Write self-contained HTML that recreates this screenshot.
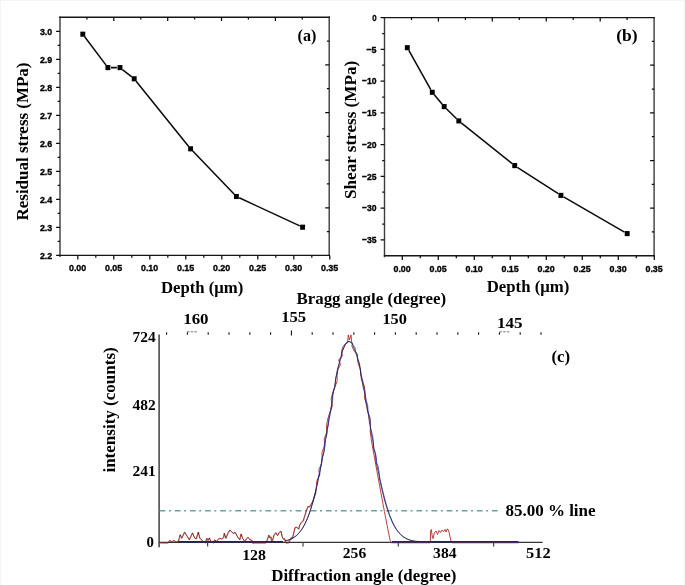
<!DOCTYPE html>
<html><head><meta charset="utf-8"><title>figure</title>
<style>
html,body{margin:0;padding:0;background:#fff;}
body{width:685px;height:585px;overflow:hidden;}
svg{display:block;filter:blur(0.35px);}
.ser{font-family:"Liberation Serif",serif;font-weight:bold;fill:#000;}
.san{font-family:"Liberation Sans",sans-serif;font-weight:bold;fill:#000;stroke:#000;stroke-width:0.35px;}
</style></head><body>
<svg width="685" height="585" viewBox="0 0 685 585">
<rect x="0" y="0" width="685" height="585" fill="#ffffff"/>
<path d="M0.5 585V0.5H684.5V585" fill="none" stroke="#f5f5f5" stroke-width="1"/>
<path d="M60.0 16.5V257.0M329.2 16.5V256.1" fill="none" stroke="#3c3c3c" stroke-width="1.4"/>
<path d="M59.3 17.2H329.9M59.3 255.4H329.9" fill="none" stroke="#161616" stroke-width="1.4"/>
<path d="M60.0 31.3h-3.9 M60.0 59.3h-3.9 M60.0 87.3h-3.9 M60.0 115.3h-3.9 M60.0 143.3h-3.9 M60.0 171.3h-3.9 M60.0 199.3h-3.9 M60.0 227.3h-3.9 M60.0 255.3h-3.9 M60.0 45.3h-2.3 M60.0 73.3h-2.3 M60.0 101.3h-2.3 M60.0 129.3h-2.3 M60.0 157.3h-2.3 M60.0 185.3h-2.3 M60.0 213.3h-2.3 M60.0 241.3h-2.3 M77.8 255.4v4.2 M113.8 255.4v4.2 M95.8 255.4v2.4 M149.8 255.4v4.2 M131.8 255.4v2.4 M185.8 255.4v4.2 M167.8 255.4v2.4 M221.8 255.4v4.2 M203.8 255.4v2.4 M257.8 255.4v4.2 M239.8 255.4v2.4 M293.8 255.4v4.2 M275.8 255.4v2.4 M329.8 255.4v4.2 M311.8 255.4v2.4 M86.9 17.2v2.4 M113.8 17.2v3.8 M140.8 17.2v2.4 M167.7 17.2v3.8 M194.6 17.2v2.4 M221.5 17.2v3.8 M248.4 17.2v2.4 M275.4 17.2v3.8 M302.3 17.2v2.4 M329.2 41.0h-2.3 M329.2 64.8h-4.0 M329.2 88.7h-2.3 M329.2 112.5h-4.0 M329.2 136.3h-2.3 M329.2 160.1h-4.0 M329.2 183.9h-2.3 M329.2 207.8h-4.0 M329.2 231.6h-2.3" fill="none" stroke="#0c0c0c" stroke-width="1.25"/>
<text class="san" x="52.2" y="34.5" font-size="9.7" text-anchor="end" textLength="12.3" lengthAdjust="spacingAndGlyphs">3.0</text>
<text class="san" x="52.2" y="62.5" font-size="9.7" text-anchor="end" textLength="12.3" lengthAdjust="spacingAndGlyphs">2.9</text>
<text class="san" x="52.2" y="90.5" font-size="9.7" text-anchor="end" textLength="12.3" lengthAdjust="spacingAndGlyphs">2.8</text>
<text class="san" x="52.2" y="118.5" font-size="9.7" text-anchor="end" textLength="12.3" lengthAdjust="spacingAndGlyphs">2.7</text>
<text class="san" x="52.2" y="146.5" font-size="9.7" text-anchor="end" textLength="12.3" lengthAdjust="spacingAndGlyphs">2.6</text>
<text class="san" x="52.2" y="174.5" font-size="9.7" text-anchor="end" textLength="12.3" lengthAdjust="spacingAndGlyphs">2.5</text>
<text class="san" x="52.2" y="202.5" font-size="9.7" text-anchor="end" textLength="12.3" lengthAdjust="spacingAndGlyphs">2.4</text>
<text class="san" x="52.2" y="230.5" font-size="9.7" text-anchor="end" textLength="12.3" lengthAdjust="spacingAndGlyphs">2.3</text>
<text class="san" x="52.2" y="258.5" font-size="9.7" text-anchor="end" textLength="12.3" lengthAdjust="spacingAndGlyphs">2.2</text>
<text class="san" x="77.6" y="271.2" font-size="9.7" text-anchor="middle" textLength="17.3" lengthAdjust="spacingAndGlyphs">0.00</text>
<text class="san" x="113.6" y="271.2" font-size="9.7" text-anchor="middle" textLength="17.3" lengthAdjust="spacingAndGlyphs">0.05</text>
<text class="san" x="149.6" y="271.2" font-size="9.7" text-anchor="middle" textLength="17.3" lengthAdjust="spacingAndGlyphs">0.10</text>
<text class="san" x="185.6" y="271.2" font-size="9.7" text-anchor="middle" textLength="17.3" lengthAdjust="spacingAndGlyphs">0.15</text>
<text class="san" x="221.6" y="271.2" font-size="9.7" text-anchor="middle" textLength="17.3" lengthAdjust="spacingAndGlyphs">0.20</text>
<text class="san" x="257.6" y="271.2" font-size="9.7" text-anchor="middle" textLength="17.3" lengthAdjust="spacingAndGlyphs">0.25</text>
<text class="san" x="293.6" y="271.2" font-size="9.7" text-anchor="middle" textLength="17.3" lengthAdjust="spacingAndGlyphs">0.30</text>
<text class="san" x="329.6" y="271.2" font-size="9.7" text-anchor="middle" textLength="17.3" lengthAdjust="spacingAndGlyphs">0.35</text>
<path d="M84.66 36.68L106.04 65.12 M111.00 67.60L116.90 67.60 M122.43 69.52L131.77 76.88 M136.14 81.21L188.66 146.39 M192.75 151.04L234.25 194.26 M239.21 197.80L299.79 225.90" fill="none" stroke="#0c0c0c" stroke-width="1.55"/>
<rect x="80.35" y="31.65" width="4.9" height="5.1" fill="#000"/>
<rect x="105.45" y="65.05" width="4.9" height="5.1" fill="#000"/>
<rect x="117.55" y="65.05" width="4.9" height="5.1" fill="#000"/>
<rect x="131.75" y="76.25" width="4.9" height="5.1" fill="#000"/>
<rect x="188.15" y="146.25" width="4.9" height="5.1" fill="#000"/>
<rect x="233.95" y="193.95" width="4.9" height="5.1" fill="#000"/>
<rect x="300.15" y="224.65" width="4.9" height="5.1" fill="#000"/>
<path d="M384.5 16.900000000000002V257.35M654.1 16.900000000000002V256.45" fill="none" stroke="#3c3c3c" stroke-width="1.4"/>
<path d="M383.8 17.6H654.8000000000001M383.8 255.75H654.8000000000001" fill="none" stroke="#161616" stroke-width="1.4"/>
<path d="M384.5 17.6h-3.9 M384.5 49.4h-3.9 M384.5 81.1h-3.9 M384.5 112.8h-3.9 M384.5 144.6h-3.9 M384.5 176.3h-3.9 M384.5 208.1h-3.9 M384.5 239.8h-3.9 M384.5 33.5h-2.3 M384.5 65.2h-2.3 M384.5 97.0h-2.3 M384.5 128.8h-2.3 M384.5 160.5h-2.3 M384.5 192.2h-2.3 M384.5 224.0h-2.3 M402.3 255.75v4.2 M438.3 255.75v4.2 M420.3 255.75v2.4 M474.3 255.75v4.2 M456.3 255.75v2.4 M510.3 255.75v4.2 M492.3 255.75v2.4 M546.3 255.75v4.2 M528.3 255.75v2.4 M582.3 255.75v4.2 M564.3 255.75v2.4 M618.3 255.75v4.2 M600.3 255.75v2.4 M654.3 255.75v4.2 M636.3 255.75v2.4 M411.5 17.6v2.4 M438.4 17.6v3.8 M465.4 17.6v2.4 M492.3 17.6v3.8 M519.3 17.6v2.4 M546.3 17.6v3.8 M573.2 17.6v2.4 M600.2 17.6v3.8 M627.1 17.6v2.4 M654.1 41.4h-2.3 M654.1 65.2h-4.0 M654.1 89.0h-2.3 M654.1 112.9h-4.0 M654.1 136.7h-2.3 M654.1 160.5h-4.0 M654.1 184.3h-2.3 M654.1 208.1h-4.0 M654.1 231.9h-2.3" fill="none" stroke="#0c0c0c" stroke-width="1.25"/>
<text class="san" x="376.6" y="20.8" font-size="9.7" text-anchor="end" textLength="4.4" lengthAdjust="spacingAndGlyphs">0</text>
<text class="san" x="376.6" y="52.6" font-size="9.7" text-anchor="end" textLength="10.2" lengthAdjust="spacingAndGlyphs">−5</text>
<text class="san" x="376.6" y="84.3" font-size="9.7" text-anchor="end" textLength="14.6" lengthAdjust="spacingAndGlyphs">−10</text>
<text class="san" x="376.6" y="116.0" font-size="9.7" text-anchor="end" textLength="14.6" lengthAdjust="spacingAndGlyphs">−15</text>
<text class="san" x="376.6" y="147.8" font-size="9.7" text-anchor="end" textLength="14.6" lengthAdjust="spacingAndGlyphs">−20</text>
<text class="san" x="376.6" y="179.5" font-size="9.7" text-anchor="end" textLength="14.6" lengthAdjust="spacingAndGlyphs">−25</text>
<text class="san" x="376.6" y="211.3" font-size="9.7" text-anchor="end" textLength="14.6" lengthAdjust="spacingAndGlyphs">−30</text>
<text class="san" x="376.6" y="243.0" font-size="9.7" text-anchor="end" textLength="14.6" lengthAdjust="spacingAndGlyphs">−35</text>
<text class="san" x="402.1" y="271.6" font-size="9.7" text-anchor="middle" textLength="17.3" lengthAdjust="spacingAndGlyphs">0.00</text>
<text class="san" x="438.1" y="271.6" font-size="9.7" text-anchor="middle" textLength="17.3" lengthAdjust="spacingAndGlyphs">0.05</text>
<text class="san" x="474.1" y="271.6" font-size="9.7" text-anchor="middle" textLength="17.3" lengthAdjust="spacingAndGlyphs">0.10</text>
<text class="san" x="510.1" y="271.6" font-size="9.7" text-anchor="middle" textLength="17.3" lengthAdjust="spacingAndGlyphs">0.15</text>
<text class="san" x="546.1" y="271.6" font-size="9.7" text-anchor="middle" textLength="17.3" lengthAdjust="spacingAndGlyphs">0.20</text>
<text class="san" x="582.1" y="271.6" font-size="9.7" text-anchor="middle" textLength="17.3" lengthAdjust="spacingAndGlyphs">0.25</text>
<text class="san" x="618.1" y="271.6" font-size="9.7" text-anchor="middle" textLength="17.3" lengthAdjust="spacingAndGlyphs">0.30</text>
<text class="san" x="654.1" y="271.6" font-size="9.7" text-anchor="middle" textLength="17.3" lengthAdjust="spacingAndGlyphs">0.35</text>
<path d="M408.82 50.40L430.78 89.60 M434.28 94.68L442.22 104.22 M446.41 108.77L456.59 118.73 M461.22 122.84L512.28 163.66 M517.31 167.28L558.29 193.72 M563.59 196.95L624.51 232.05" fill="none" stroke="#0c0c0c" stroke-width="1.55"/>
<rect x="404.85" y="45.15" width="4.9" height="5.1" fill="#000"/>
<rect x="429.85" y="89.75" width="4.9" height="5.1" fill="#000"/>
<rect x="441.75" y="104.05" width="4.9" height="5.1" fill="#000"/>
<rect x="456.35" y="118.35" width="4.9" height="5.1" fill="#000"/>
<rect x="512.25" y="163.05" width="4.9" height="5.1" fill="#000"/>
<rect x="558.45" y="192.85" width="4.9" height="5.1" fill="#000"/>
<rect x="624.75" y="231.05" width="4.9" height="5.1" fill="#000"/>
<text class="ser" x="28.0" y="141.5" font-size="17" text-anchor="middle" textLength="158.0" lengthAdjust="spacingAndGlyphs" transform="rotate(-90 28.0 141.5)">Residual stress (MPa)</text>
<text class="ser" x="356.4" y="129.9" font-size="17" text-anchor="middle" textLength="138.2" lengthAdjust="spacingAndGlyphs" transform="rotate(-90 356.4 129.9)">Shear stress (MPa)</text>
<text class="ser" x="160.9" y="292.7" font-size="17" text-anchor="start" textLength="82.5" lengthAdjust="spacingAndGlyphs">Depth (μm)</text>
<text class="ser" x="486.7" y="292.0" font-size="17" text-anchor="start" textLength="82.6" lengthAdjust="spacingAndGlyphs">Depth (μm)</text>
<text class="ser" x="297.6" y="40.6" font-size="16" text-anchor="start" textLength="18.8" lengthAdjust="spacingAndGlyphs">(a)</text>
<text class="ser" x="616.2" y="40.6" font-size="16" text-anchor="start" textLength="21.4" lengthAdjust="spacingAndGlyphs">(b)</text>
<clipPath id="cb"><rect x="290" y="293.1" width="165" height="14.6"/></clipPath><g clip-path="url(#cb)"><text class="ser" x="296.5" y="304.4" font-size="16" text-anchor="start" textLength="149.6" lengthAdjust="spacingAndGlyphs">Bragg angle (degree)</text>
</g>
<text class="ser" x="551.5" y="362.3" font-size="16" text-anchor="start" textLength="18.7" lengthAdjust="spacingAndGlyphs">(c)</text>
<text class="ser" x="271.2" y="581.2" font-size="17" text-anchor="start" textLength="185.3" lengthAdjust="spacingAndGlyphs">Diffraction angle (degree)</text>
<text class="ser" x="115.5" y="409.9" font-size="17" text-anchor="middle" textLength="125.4" lengthAdjust="spacingAndGlyphs" transform="rotate(-90 115.5 409.9)">intensity (counts)</text>
<text class="ser" x="505.4" y="516.3" font-size="17" text-anchor="start" textLength="90.2" lengthAdjust="spacingAndGlyphs">85.00 % line</text>
<text class="ser" x="183.2" y="323.5" font-size="14.5" text-anchor="start" textLength="25.4" lengthAdjust="spacingAndGlyphs">160</text>
<text class="ser" x="281.2" y="321.5" font-size="14.5" text-anchor="start" textLength="25.0" lengthAdjust="spacingAndGlyphs">155</text>
<text class="ser" x="382.4" y="323.7" font-size="14.5" text-anchor="start" textLength="24.4" lengthAdjust="spacingAndGlyphs">150</text>
<text class="ser" x="497.0" y="327.8" font-size="15" text-anchor="start" textLength="25.6" lengthAdjust="spacingAndGlyphs">145</text>
<text class="ser" x="132.6" y="341.6" font-size="14.5" text-anchor="start" textLength="23.2" lengthAdjust="spacingAndGlyphs">724</text>
<text class="ser" x="132.6" y="410.1" font-size="14.5" text-anchor="start" textLength="23.2" lengthAdjust="spacingAndGlyphs">482</text>
<text class="ser" x="132.6" y="476.4" font-size="14.5" text-anchor="start" textLength="23.2" lengthAdjust="spacingAndGlyphs">241</text>
<text class="ser" x="146.6" y="546.5" font-size="14.5" text-anchor="start" textLength="7.4" lengthAdjust="spacingAndGlyphs">0</text>
<text class="ser" x="242.2" y="559.7" font-size="14.5" text-anchor="start" textLength="23.8" lengthAdjust="spacingAndGlyphs">128</text>
<text class="ser" x="342.8" y="558.4" font-size="14.5" text-anchor="start" textLength="23.4" lengthAdjust="spacingAndGlyphs">256</text>
<text class="ser" x="433.1" y="558.3" font-size="14.5" text-anchor="start" textLength="23.5" lengthAdjust="spacingAndGlyphs">384</text>
<text class="ser" x="526.0" y="558.3" font-size="14.5" text-anchor="start" textLength="24.6" lengthAdjust="spacingAndGlyphs">512</text>
<path d="M159.1 334.4V547.3M159.1 542.4H542.6" fill="none" stroke="#333" stroke-width="1.4"/>
<path d="M207.6 542v4.6M303 542v4.6M398.3 542v4.6M493.6 542v4.6" fill="none" stroke="#444" stroke-width="1.2"/>
<path d="M166.6 332.2v2.6 M187.4 332.2v2.6 M208.2 332.2v2.6 M229.0 332.2v2.6 M249.8 332.2v2.6 M270.6 332.2v2.6 M291.4 330.5v5 M312.2 332.2v2.6 M333.0 332.2v2.6 M353.8 332.2v2.6 M374.6 332.2v2.6 M395.4 332.2v2.6 M416.2 332.2v2.6 M437.0 332.2v2.6 M457.8 332.2v2.6 M478.6 332.2v2.6 M499.4 332.2v2.6 M520.2 332.2v2.6 M541.0 332.2v2.6" fill="none" stroke="#111" stroke-width="1.1"/>
<path d="M187 331.8h10M499.5 331.8h10" fill="none" stroke="#777" stroke-width="1" stroke-dasharray="2.5 1.2"/>
<path d="M159.7 510.85H498.4" fill="none" stroke="#6aa4a1" stroke-width="1.5" stroke-dasharray="5.8 3.5 2 3.8"/>
<polyline points="160.0,542.8 168.0,542.8 169.5,540.4 171.7,541.6 173.9,540.4 176.1,541.9 178.2,541.6 180.1,534.6 181.6,538.2 184.5,532.0 187.0,536.1 189.2,539.7 192.4,532.8 194.7,538.2 196.2,538.7 198.2,532.0 199.7,538.2 201.6,539.7 203.1,541.9 205.3,542.8 206.7,538.2 207.9,540.4 209.3,537.8 210.8,541.9 213.3,542.8 214.7,539.7 216.2,541.2 218.4,539.0 219.9,538.2 221.3,539.0 223.5,537.5 224.2,533.1 225.7,538.2 227.9,533.1 229.8,529.9 231.5,531.7 233.0,533.4 235.2,532.4 237.4,536.8 239.6,539.7 241.0,533.9 242.5,538.2 244.7,541.6 246.1,539.0 248.0,537.2 249.8,539.7 251.7,540.1 253.1,542.8 252.3,542.8 265.8,542.8 267.5,539.1 268.7,535.0 269.9,537.9 270.8,536.7 271.6,542.8 272.8,539.1 273.9,535.0 275.7,532.6 277.4,535.5 279.2,532.3 280.9,531.1 282.1,536.7 283.3,539.1 284.5,538.5 285.6,542.8 288.5,542.8 290.9,537.9 292.6,537.3 293.8,532.0 295.0,527.4 296.7,527.1 298.5,529.1 299.6,525.0 301.4,522.1 303.1,520.9 304.3,516.9 306.1,511.0 307.8,506.4 309.6,506.9 310.7,504.6 312.5,501.7 314.2,497.0 316.0,491.2 316.4,485.5 316.9,480.4 319.7,475.1 318.8,469.6 321.5,463.8 322.0,457.8 322.1,451.7 324.7,445.4 324.2,438.9 326.7,432.3 326.5,425.7 327.7,419.1 329.9,412.4 332.4,405.8 331.1,399.3 332.6,392.9 335.0,386.7 337.2,380.8 337.1,375.1 337.5,369.7 340.6,364.7 338.6,360.0 342.4,355.9 341.6,352.1 342.2,348.9 343.2,346.3 344.9,344.2 347.8,342.6 347.7,341.5 348.3,334.9 349.4,340.0 351.0,334.9 351.7,342.0 352.4,343.8 351.8,345.8 352.9,348.4 354.5,351.5 357.2,355.1 357.5,359.2 358.2,363.8 360.2,368.7 360.8,374.1 361.4,379.7 364.2,385.6 365.0,391.8 364.5,398.1 366.8,404.6 367.7,411.2 370.0,417.8 370.6,424.5 370.2,431.1 371.3,440.0 375.0,460.5 378.8,481.4 384.4,511.4 388.0,530.0 390.2,540.5 391.2,542.8 430.3,542.8 430.6,531.0 431.3,529.5 432.2,536.0 433.0,538.6 434.3,533.0 436.0,531.0 437.5,534.5 439.0,530.5 440.5,532.5 442.0,530.0 443.5,531.8 445.0,529.4 446.0,532.0 447.4,528.8 448.8,531.0 449.8,536.0 451.0,541.0 451.8,542.8 518.5,542.8" fill="none" stroke="#b42a2a" stroke-width="0.9" stroke-linejoin="round"/>
<polyline points="160.4,543.1 168.4,543.1 169.9,540.7 172.1,541.9 174.3,540.7 176.5,542.2 178.6,541.9 180.5,534.9 182.0,538.5 184.9,532.3 187.4,536.4 189.6,540.0 192.8,533.1 195.1,538.5 196.6,539.0 198.6,532.3 200.1,538.5 202.0,540.0 203.5,542.2 205.7,543.1 207.1,538.5 208.3,540.7 209.7,538.1 211.2,542.2 213.7,543.1 215.1,540.0 216.6,541.5 218.8,539.3 220.3,538.5 221.7,539.3 223.9,537.8 224.6,533.4 226.1,538.5 228.3,533.4 230.2,530.2 231.9,532.0 233.4,533.7 235.6,532.7 237.8,537.1 240.0,540.0 241.4,534.2 242.9,538.5 245.1,541.9 246.5,539.3 248.4,537.5 250.2,540.0 252.1,540.4 253.5,543.1 252.7,543.1 266.2,543.1 267.9,539.4 269.1,535.3 270.3,538.2 271.2,537.0 272.0,543.1 273.2,539.4 274.3,535.3 276.1,532.9 277.8,535.8 279.6,532.6 281.3,531.4 282.5,537.0 283.7,539.4 284.9,538.8 286.0,543.1 288.9,543.1 291.3,538.2 293.0,537.6 294.2,532.3 295.4,527.7 297.1,527.4 298.9,529.4 300.0,525.3 301.8,522.4 303.5,521.2 304.7,517.2 306.5,511.3 308.2,506.7 310.0,507.2 311.1,504.9 312.9,502.0 314.6,497.3 316.4,491.5" fill="none" stroke="#2a0808" stroke-width="0.5" stroke-opacity="0.7" stroke-linejoin="round"/>
<path d="M178.2 541.8H283M392 541.7H518.5" fill="none" stroke="#1f1f86" stroke-width="1.5"/>
<polyline points="284.8,541.14 285.6,540.97 286.4,540.78 287.2,540.57 288.0,540.33 288.8,540.07 289.6,539.78 290.4,539.45 291.2,539.09 292.0,538.70 292.8,538.26 293.6,537.78 294.4,537.25 295.2,536.67 296.0,536.03 296.8,535.33 297.6,534.57 298.4,533.75 299.2,532.84 300.0,531.87 300.8,530.81 301.6,529.66 302.4,528.42 303.2,527.09 304.0,525.66 304.8,524.12 305.6,522.47 306.4,520.71 307.2,518.83 308.0,516.82 308.8,514.69 309.6,512.43 310.4,510.04 311.2,507.51 312.0,504.84 312.8,502.04 313.6,499.09 314.4,496.00 315.2,492.77 316.0,489.40 316.8,485.88 317.6,482.24 318.2,478.45 318.8,474.54 320.3,470.50 320.7,466.34 321.9,462.07 322.3,457.69 323.7,453.21 324.3,448.65 324.3,444.01 325.3,439.30 326.8,434.54 327.2,429.74 328.5,424.91 328.7,420.06 329.2,415.22 330.5,410.40 331.5,405.61 331.8,400.87 332.4,396.20 333.4,391.61 334.9,387.13 335.5,382.76 335.6,378.53 336.5,374.46 337.2,370.56 338.0,366.84 339.5,363.33 339.7,360.04 340.9,356.98 341.5,354.17 342.1,351.62 343.4,349.34 343.6,347.34 344.9,345.64 345.2,344.23 346.3,343.13 346.9,342.33 347.8,341.86 349.3,341.70 350.7,341.86 351.0,342.33 352.4,343.13 352.5,344.23 353.5,345.64 354.8,347.34 355.3,349.34 355.6,351.62 357.3,354.17 357.3,356.98 358.2,360.04 359.5,363.33 359.8,366.84 360.6,370.56 361.2,374.46 362.0,378.53 363.3,382.76 363.7,387.13 364.9,391.61 365.5,396.20 366.4,400.87 367.7,405.61 368.0,410.40 368.9,415.22 370.0,420.06 370.1,424.91 370.9,429.74 372.4,434.54 373.1,439.30 373.3,444.01 374.1,448.65 375.4,453.21 376.4,457.69 376.5,462.07 378.1,466.34 378.8,470.50 379.3,474.54 379.9,478.45 380.8,482.24 381.6,485.88 382.4,489.40 383.2,492.77 384.0,496.00 384.8,499.09 385.6,502.04 386.4,504.84 387.2,507.51 388.0,510.04 388.8,512.43 389.6,514.69 390.4,516.82 391.2,518.83 392.0,520.71 392.8,522.47 393.6,524.12 394.4,525.66 395.2,527.09 396.0,528.42 396.8,529.66 397.6,530.81 398.4,531.87 399.2,532.84 400.0,533.75 400.8,534.57 401.6,535.33 402.4,536.03 403.2,536.67 404.0,537.25 404.8,537.78 405.6,538.26 406.4,538.70 407.2,539.09 408.0,539.45 408.8,539.78 409.6,540.07 410.4,540.33 411.2,540.57 412.0,540.78 412.8,540.97 413.6,541.14 414.4,541.29 415.2,541.42 416.0,541.54 416.8,541.65 417.6,541.74 418.4,541.83 419.2,541.90 420.0,541.96 420.8,542.02" fill="none" stroke="#3a3ad0" stroke-width="0.85" stroke-linejoin="round"/>
<polyline points="285.0,540.74 285.8,540.57 286.6,540.38 287.4,540.17 288.2,539.93 289.0,539.67 289.8,539.38 290.6,539.05 291.4,538.69 292.2,538.30 293.0,537.86 293.8,537.38 294.6,536.85 295.4,536.27 296.2,535.63 297.0,534.93 297.8,534.17 298.6,533.35 299.4,532.44 300.2,531.47 301.0,530.41 301.8,529.26 302.6,528.02 303.4,526.69 304.2,525.26 305.0,523.72 305.8,522.07 306.6,520.31 307.4,518.43 308.2,516.42 309.0,514.29 309.8,512.03 310.6,509.64 311.4,507.11 312.2,504.44 313.0,501.64 313.8,498.69 314.6,495.60 315.4,492.37 316.2,489.00 317.0,485.48 317.8,481.84 318.5,478.05 319.8,474.14 320.0,470.10 321.1,465.94 321.5,461.67 322.5,457.29 323.7,452.81 324.6,448.25 325.3,443.61 325.7,438.90 326.7,434.14 327.2,429.34 327.9,424.51 329.0,419.66 330.1,414.82 330.9,410.00 331.6,405.21 332.6,400.47 332.8,395.80 333.5,391.21 334.6,386.73 335.2,382.36 335.9,378.13 336.9,374.06 337.9,370.16 338.6,366.44 339.2,362.93 340.5,359.64 341.4,356.58 341.8,353.77 342.2,351.22 343.0,348.94 344.5,346.94 344.6,345.24 346.0,343.83 346.7,342.73 347.2,341.93 348.5,341.46 348.6,341.30 349.5,341.46 350.6,341.93 351.0,342.73 352.5,343.83 352.8,345.24 353.5,346.94 354.2,348.94 355.5,351.22 356.2,353.77 357.1,356.58 357.9,359.64 358.9,362.93 359.8,366.44 360.4,370.16 360.7,374.06 361.8,378.13 362.3,382.36 363.0,386.73 364.2,391.21 365.2,395.80 365.5,400.47 366.4,405.21 367.3,410.00 368.4,414.82 369.0,419.66 369.9,424.51 370.8,429.34 371.3,434.14 372.5,438.90 373.4,443.61 373.4,448.25 375.0,452.81 375.6,457.29 375.9,461.67 377.0,465.94 377.9,470.10 379.0,474.14 379.3,478.05 380.2,481.84 381.0,485.48 381.8,489.00 382.6,492.37 383.4,495.60 384.2,498.69 385.0,501.64 385.8,504.44 386.6,507.11 387.4,509.64 388.2,512.03 389.0,514.29 389.8,516.42 390.6,518.43 391.4,520.31 392.2,522.07 393.0,523.72 393.8,525.26 394.6,526.69 395.4,528.02 396.2,529.26 397.0,530.41 397.8,531.47 398.6,532.44 399.4,533.35 400.2,534.17 401.0,534.93 401.8,535.63 402.6,536.27 403.4,536.85 404.2,537.38 405.0,537.86 405.8,538.30 406.6,538.69 407.4,539.05 408.2,539.38 409.0,539.67 409.8,539.93 410.6,540.17 411.4,540.38 412.2,540.57 413.0,540.74 413.8,540.89 414.6,541.02 415.4,541.14 416.2,541.25 417.0,541.34 417.8,541.43 418.6,541.50 419.4,541.56 420.2,541.62" fill="none" stroke="#15151f" stroke-width="0.7" stroke-linejoin="round"/>
</svg>
</body></html>
